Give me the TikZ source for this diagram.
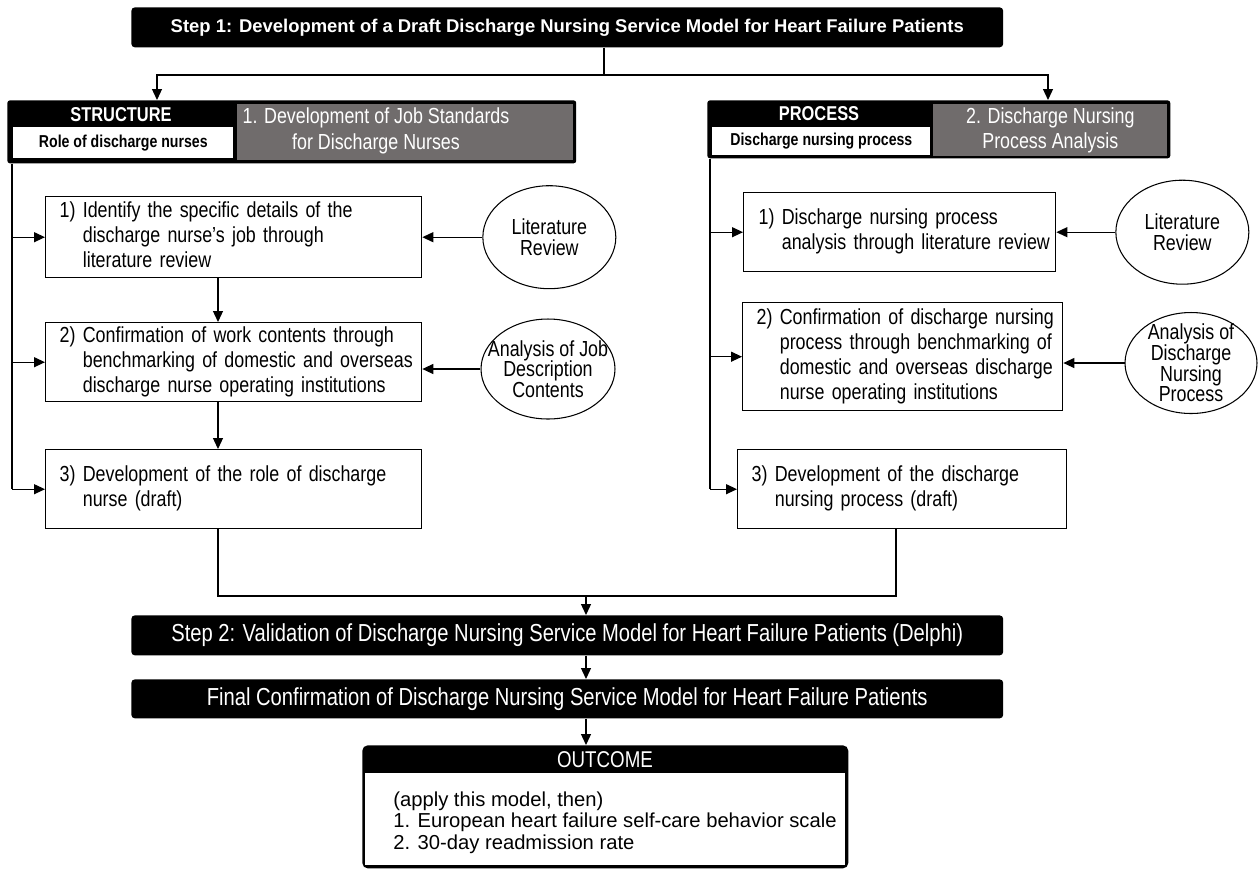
\documentclass[tikz,border=0pt]{standalone}
\usepackage{fontspec}
\setmainfont{Liberation Sans}[FakeStretch=0.82]
\newfontfamily\widefont{Liberation Sans}
\usetikzlibrary{
	arrows.meta,
	positioning,
	shapes.geometric,
	}

\definecolor{headgray}{RGB}{112,108,108}
\newcommand{\numitem}[2]{\begin{tabular}{@{}l@{\ }l@{}}#1 & #2\end{tabular}}

\tikzset{
	bar/.style={fill=black, text=white, rounded corners=2pt, anchor=north west,
		minimum width=17.44cm, inner sep=0pt},
	task/.style={draw, line width=0.8pt, anchor=north west, align=left,
		inner xsep=0.28cm, inner ysep=0pt, font=\fontsize{12.4}{14.2}\selectfont},
	source/.style={draw, ellipse, line width=0.6pt, inner xsep=-12pt, inner ysep=-8pt,
		align=center, font=\fontsize{12.4}{11.8}\selectfont},
	link/.style={line width=0.7pt},
	arr/.style={line width=0.7pt, -{Triangle[length=2.2mm,width=2mm]}},
	}

\begin{document}
\begin{tikzpicture}[x=0.02cm, y=-0.02cm]
	\useasboundingbox (0,0) rectangle (1260,870);

	\node[bar, minimum height=0.8cm, font=\widefont\bfseries\fontsize{10.5}{12}\selectfont] (step1) at (131,7)
		{Step 1: Development of a Draft Discharge Nursing Service Model for Heart Failure Patients};

	\node[fill=black, rounded corners=1.5pt, anchor=north west, minimum width=11.38cm, minimum height=1.26cm, inner sep=0pt] (struct) at (7,100) {};
	\node[fill=headgray, anchor=north west, minimum width=6.72cm, minimum height=1.12cm, inner sep=0pt] (jobstd) at (237,104) {};
	\node[text=white, align=center, font=\fontsize{12.4}{15}\selectfont] (jobstdlbl) at (376,131) {1. Development of Job Standards\\for Discharge Nurses};
	\node[fill=white, anchor=north west, minimum width=4.4cm, minimum height=0.62cm, inner sep=0pt, font=\bfseries\fontsize{9.8}{11}\selectfont] (role) at (13,127) {Role of discharge nurses};
	\node[text=white, font=\bfseries\fontsize{11.4}{13}\selectfont] (structlbl) at (121,115) {STRUCTURE};

	\node[fill=black, rounded corners=1.5pt, anchor=north west, minimum width=9.26cm, minimum height=1.16cm, inner sep=0pt] (proc) at (707,100) {};
	\node[fill=headgray, text=white, align=center, anchor=north west, minimum width=4.68cm, minimum height=1.04cm, inner sep=0pt, font=\fontsize{12.4}{14.5}\selectfont] (procana) at (933,104) {2. Discharge Nursing\\Process Analysis};
	\node[fill=white, anchor=north west, minimum width=4.36cm, minimum height=0.56cm, inner sep=0pt, font=\bfseries\fontsize{9.8}{11}\selectfont] (procrole) at (712,127) {Discharge nursing process};
	\node[text=white, font=\bfseries\fontsize{11.4}{13}\selectfont] (proclbl) at (819,114) {PROCESS};

	\node[task, text width=6.96cm, minimum height=1.62cm] (l1) at (45,196)
		{\numitem{1)}{Identify the specific details of the\\ & discharge nurse's job through\\ & literature review}};
	\node[task, text width=6.96cm, minimum height=1.58cm] (l2) at (45,322)
		{\numitem{2)}{Confirmation of work contents through\\ & benchmarking of domestic and overseas\\ & discharge nurse operating institutions}};
	\node[task, text width=6.96cm, minimum height=1.58cm] (l3) at (45,449)
		{\numitem{3)}{Development of the role of discharge\\ & nurse (draft)}};

	\node[task, inner xsep=0.3cm, text width=5.64cm, minimum height=1.58cm] (r1) at (743,192)
		{\numitem{1)}{Discharge nursing process\\ & analysis through literature review}};
	\node[task, text width=5.84cm, minimum height=2.16cm] (r2) at (742,302)
		{\numitem{2)}{Confirmation of discharge nursing\\ & process through benchmarking of\\ & domestic and overseas discharge\\ & nurse operating institutions}};
	\node[task, text width=6.02cm, minimum height=1.58cm] (r3) at (737,449)
		{\numitem{3)}{Development of the discharge\\ & nursing process (draft)}};

	\node[source, minimum width=2.66cm, minimum height=2.06cm, right=1.2cm of l1] (lit1) {Literature\\Review};
	\node[source, minimum width=2.68cm, minimum height=2.0cm] (jobdesc) at (548,369) {Analysis of Job\\Description\\Contents};
	\node[source, minimum width=2.66cm, minimum height=2.08cm, right=1.18cm of r1] (lit2) {Literature\\Review};
	\node[source, minimum width=2.64cm, minimum height=2.02cm] (procdesc) at (1191,363) {Analysis of\\Discharge\\Nursing\\Process};

	\node[bar, minimum height=0.8cm, font=\fontsize{14}{15}\selectfont] (step2) at (131,615)
		{Step 2: Validation of Discharge Nursing Service Model for Heart Failure Patients (Delphi)};
	\node[bar, minimum height=0.78cm, font=\fontsize{14}{15}\selectfont] (final) at (131,679)
		{Final Confirmation of Discharge Nursing Service Model for Heart Failure Patients};

	\node[fill=black, rounded corners=3pt, anchor=north west, minimum width=9.72cm, minimum height=2.46cm, inner sep=0pt] (outcome) at (362,745) {};
	\node[fill=white, anchor=north west, minimum width=9.6cm, minimum height=1.84cm, inner sep=0pt] (outbody) at (365,773) {};
	\node[text=white, font=\fontsize{13}{14}\selectfont] (outlbl) at (605,760) {OUTCOME};
	\node[anchor=north west, align=left, inner sep=0pt, font=\widefont\fontsize{11.5}{12.5}\selectfont] (outtext) at (393,791)
		{(apply this model, then)\\1. European heart failure self-care behavior scale\\2. 30-day readmission rate};

	\coordinate (split) at (604,75);
	\coordinate (lt) at (157,75);
	\coordinate (rt) at (1048,75);
	\coordinate (lv) at (12,0);
	\coordinate (rv) at (710,0);
	\coordinate (lx) at (218,0);
	\coordinate (rx) at (896,0);
	\coordinate (join) at (586,596);

	\draw[link] (step1.south -| split) -- (split);
	\draw[arr] (split) -- (lt) -- (lt |- struct.north);
	\draw[arr] (split) -- (rt) -- (rt |- proc.north);

	\draw[link] (lv |- struct.south) -- (lv |- l3.west);
	\draw[link] (rv |- proc.south) -- (rv |- r3.west);
	\foreach \b in {l1,l2,l3}
		\draw[arr] (lv |- \b.west) -- (\b.west);
	\foreach \b in {r1,r2,r3}
		\draw[arr] (rv |- \b.west) -- (\b.west);

	\draw[arr] (l1.south -| lx) -- (l2.north -| lx);
	\draw[arr] (l2.south -| lx) -- (l3.north -| lx);

	\draw[arr] (lit1.west) -- (lit1.west -| l1.east);
	\draw[arr] (jobdesc.west) -- (jobdesc.west -| l2.east);
	\draw[arr] (lit2.west) -- (lit2.west -| r1.east);
	\draw[arr] (procdesc.west) -- (procdesc.west -| r2.east);

	\draw[link] (l3.south -| lx) -- (lx |- join) -- (rx |- join) -- (r3.south -| rx);
	\draw[arr] (join) -- (step2.north -| join);
	\draw[arr] (step2.south -| join) -- (final.north -| join);
	\draw[arr] (final.south -| join) -- (outcome.north -| join);
\end{tikzpicture}
\end{document}
